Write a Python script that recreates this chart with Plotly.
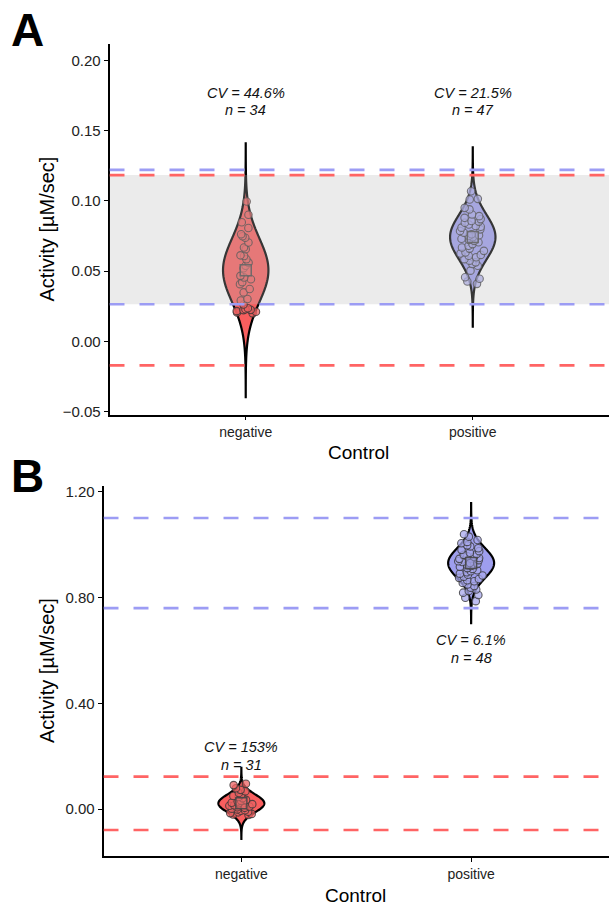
import numpy as np
import plotly.graph_objects as go

W, H = 609, 909
FONT = "Liberation Sans, Arial, Helvetica, sans-serif"

# ---------------- data ----------------
categories = ["negative", "positive"]

# Panel A – individual control wells (Activity, µM/sec)
a_negative = [0.0995, 0.0901, 0.0847, 0.0807, 0.0762, 0.0748, 0.0737, 0.0703,
              0.0668, 0.0656, 0.0612, 0.0607, 0.0584, 0.0560, 0.0538, 0.0520,
              0.0466, 0.0454, 0.0442, 0.0421, 0.0407, 0.0372, 0.0348, 0.0301,
              0.0291, 0.0262, 0.0235, 0.0228, 0.0224, 0.0222, 0.0215, 0.0210,
              0.0205, 0.0199]
a_positive = [0.1068, 0.1014, 0.1009, 0.0950, 0.0939, 0.0903, 0.0891, 0.0879,
              0.0870, 0.0856, 0.0852, 0.0844, 0.0832, 0.0821, 0.0815, 0.0809,
              0.0797, 0.0785, 0.0773, 0.0762, 0.0755, 0.0750, 0.0741, 0.0730,
              0.0722, 0.0715, 0.0705, 0.0692, 0.0680, 0.0668, 0.0660, 0.0644,
              0.0632, 0.0625, 0.0615, 0.0609, 0.0598, 0.0585, 0.0574, 0.0562,
              0.0550, 0.0538, 0.0503, 0.0456, 0.0445, 0.0426, 0.0409]
a_means = [0.0506, 0.0742]
a_cv_pct = [44.6, 21.5]
a_cv_labels = ["CV = 44.6%", "CV = 21.5%"]
a_n_labels = ["n = 34", "n = 47"]
a_yticks = [-0.05, 0.00, 0.05, 0.10, 0.15, 0.20]

# Panel B
b_negative = [0.096, 0.091, 0.079, 0.073, 0.068, 0.061, 0.056, 0.050, 0.046,
              0.041, 0.035, 0.032, 0.029, 0.024, 0.022, 0.019, 0.015, 0.013,
              0.010, 0.007, 0.005, 0.002, -0.001, -0.004, -0.006, -0.010,
              -0.012, -0.015, -0.018, -0.020, -0.022]
b_positive = [1.040, 1.031, 1.018, 1.011, 1.006, 0.998, 0.994, 0.987, 0.981,
              0.976, 0.970, 0.965, 0.962, 0.957, 0.955, 0.950, 0.947, 0.942,
              0.938, 0.935, 0.931, 0.928, 0.923, 0.920, 0.917, 0.912, 0.909,
              0.904, 0.900, 0.896, 0.891, 0.887, 0.884, 0.879, 0.875, 0.871,
              0.866, 0.862, 0.856, 0.850, 0.844, 0.838, 0.831, 0.825, 0.819,
              0.810, 0.800, 0.787]
b_means = [0.022, 0.931]
b_cv_pct = [153.0, 6.1]
b_cv_labels = ["CV = 153%", "CV = 6.1%"]
b_n_labels = ["n = 31", "n = 48"]
b_yticks = [0.00, 0.40, 0.80, 1.20]

# ---------------- style ----------------
FILL = ["rgb(248,94,94)", "rgb(158,158,238)"]
PT_FILL = ["rgba(236,98,98,0.75)", "rgba(168,168,236,0.75)"]
MEAN_FILL = ["rgba(230,110,110,0.55)", "rgba(150,150,210,0.55)"]
PT_LINE = "rgba(55,55,55,0.8)"
LIM_LINE = ["rgb(255,100,100)", "rgb(156,156,244)"]
POS = [1, 2]


def px_y(p):
    return 1 - p / H


def px_x(p):
    return p / W


def violin_path(pos, mean, sd, half_width=0.1):
    grid = np.linspace(mean - 4 * sd, mean + 4 * sd, 301)
    dens = np.exp(-0.5 * ((grid - mean) / sd) ** 2)
    xs = np.concatenate([pos + half_width * dens, (pos - half_width * dens)[::-1]])
    ys = np.concatenate([grid, grid[::-1]])
    pts = " L ".join(f"{x:.5f},{y:.6f}" for x, y in zip(xs, ys))
    return "M " + pts + " Z"


fig = go.Figure()
shapes = []
annotations = []

panels = [
    dict(xa="x", ya="y", vals=[a_negative, a_positive], means=a_means, cv=a_cv_pct,
         cvl=a_cv_labels, nl=a_n_labels,
         lab_px=[(90.7, 108.0), (90.7, 108.0)]),
    dict(xa="x2", ya="y2", vals=[b_negative, b_positive], means=b_means, cv=b_cv_pct,
         cvl=b_cv_labels, nl=b_n_labels,
         lab_px=[(751.0, 768.5), (643.0, 660.7)]),
]

for p in panels:
    sds = [m * c / 100 for m, c in zip(p["means"], p["cv"])]
    # violins (normal density from mean & sd), drawn beneath the points
    for i in range(2):
        shapes.append(dict(type="path", xref=p["xa"], yref=p["ya"], layer="below",
                           path=violin_path(POS[i], p["means"][i], sds[i]),
                           fillcolor=FILL[i], line=dict(color="black", width=2.2)))
    # jittered points
    for i in range(2):
        v = p["vals"][i]
        fig.add_trace(go.Box(x=[POS[i]] * len(v), y=v, boxpoints="all", jitter=0.6,
                             pointpos=0, width=0.2,
                             fillcolor="rgba(0,0,0,0)",
                             line=dict(color="rgba(0,0,0,0)", width=0),
                             marker=dict(size=7.5, color=PT_FILL[i],
                                         line=dict(color=PT_LINE, width=1.1)),
                             xaxis=p["xa"], yaxis=p["ya"], hoverinfo="y"))
    # means
    fig.add_trace(go.Scatter(x=POS, y=p["means"], mode="markers",
                             marker=dict(symbol="square", size=11, color=MEAN_FILL,
                                         line=dict(color="rgba(70,70,70,0.9)", width=1.5)),
                             xaxis=p["xa"], yaxis=p["ya"], hoverinfo="y"))
    lo = [m - 3 * s for m, s in zip(p["means"], sds)]
    hi = [m + 3 * s for m, s in zip(p["means"], sds)]
    # overlap band (neg upper limit vs pos lower limit)
    if lo[1] < hi[0]:
        shapes.append(dict(type="rect", xref=p["xa"], yref=p["ya"], x0=0.4, x1=2.6,
                           y0=lo[1], y1=hi[0], fillcolor="rgb(187,187,187)",
                           opacity=0.29, line=dict(width=0), layer="above"))
    for i in [1, 0]:
        for yv in (lo[i], hi[i]):
            shapes.append(dict(type="line", xref=p["xa"], yref=p["ya"], x0=0.4, x1=2.6,
                               y0=yv, y1=yv, layer="above",
                               line=dict(color=LIM_LINE[i], width=2.6, dash="15px,15px")))
    for i in range(2):
        for txt, ypx in zip([p["cvl"][i], p["nl"][i]], p["lab_px"][i]):
            annotations.append(dict(text="<i>" + txt + "</i>", xref=p["xa"], x=POS[i],
                                    yref="paper", y=px_y(ypx), yanchor="middle",
                                    showarrow=False,
                                    font=dict(family=FONT, size=14.5, color="#111")))

# panel letters and axis titles
for letter, cy in (("A", 27), ("B", 477)):
    annotations.append(dict(text="<b>" + letter + "</b>", xref="paper", yref="paper",
                            x=px_x(27), y=px_y(cy), xanchor="center", yanchor="middle",
                            showarrow=False, font=dict(family=FONT, size=46, color="black")))
for cy in (228.5, 674.0):
    annotations.append(dict(text="Activity [µM/sec]", xref="paper", yref="paper",
                            x=px_x(47), y=px_y(cy), textangle=-90, xanchor="center",
                            yanchor="middle", showarrow=False,
                            font=dict(family=FONT, size=20, color="black")))
for cy, cx in ((453, 359), (900, 356)):
    annotations.append(dict(text="Control", xref="paper", yref="paper",
                            x=px_x(cx), y=px_y(cy), xanchor="center", yanchor="middle",
                            showarrow=False, font=dict(family=FONT, size=19, color="black")))

axis_common = dict(showline=True, linecolor="black", linewidth=1.6, ticks="outside",
                   ticklen=4, tickwidth=1.4, tickcolor="black", showgrid=False,
                   zeroline=False, type="linear")

fig.update_layout(
    width=W, height=H, margin=dict(l=0, r=0, t=0, b=0),
    paper_bgcolor="white", plot_bgcolor="white", showlegend=False,
    xaxis=dict(axis_common, domain=[px_x(109.5), 1], range=[0.4, 2.6], anchor="y",
               tickvals=POS, ticktext=categories,
               tickfont=dict(family=FONT, size=14, color="#222")),
    yaxis=dict(axis_common, domain=[px_y(415.3), px_y(41.7)], range=[-0.0522, 0.2114],
               anchor="x", tickvals=a_yticks, tickformat=".2f",
               tickfont=dict(family=FONT, size=15, color="#222")),
    xaxis2=dict(axis_common, domain=[px_x(103.5), 1], range=[0.4, 2.6], anchor="y2",
                tickvals=POS, ticktext=categories,
                tickfont=dict(family=FONT, size=14, color="#222")),
    yaxis2=dict(axis_common, domain=[px_y(860.7), px_y(487.7)], range=[-0.1777, 1.221],
                anchor="x2", tickvals=b_yticks, tickformat=".2f",
                tickfont=dict(family=FONT, size=15, color="#222")),
    shapes=shapes, annotations=annotations,
)

fig.write_html("out.html", config={"displayModeBar": False},
               post_script="document.body.style.margin='0px';document.body.style.overflow='hidden';")
